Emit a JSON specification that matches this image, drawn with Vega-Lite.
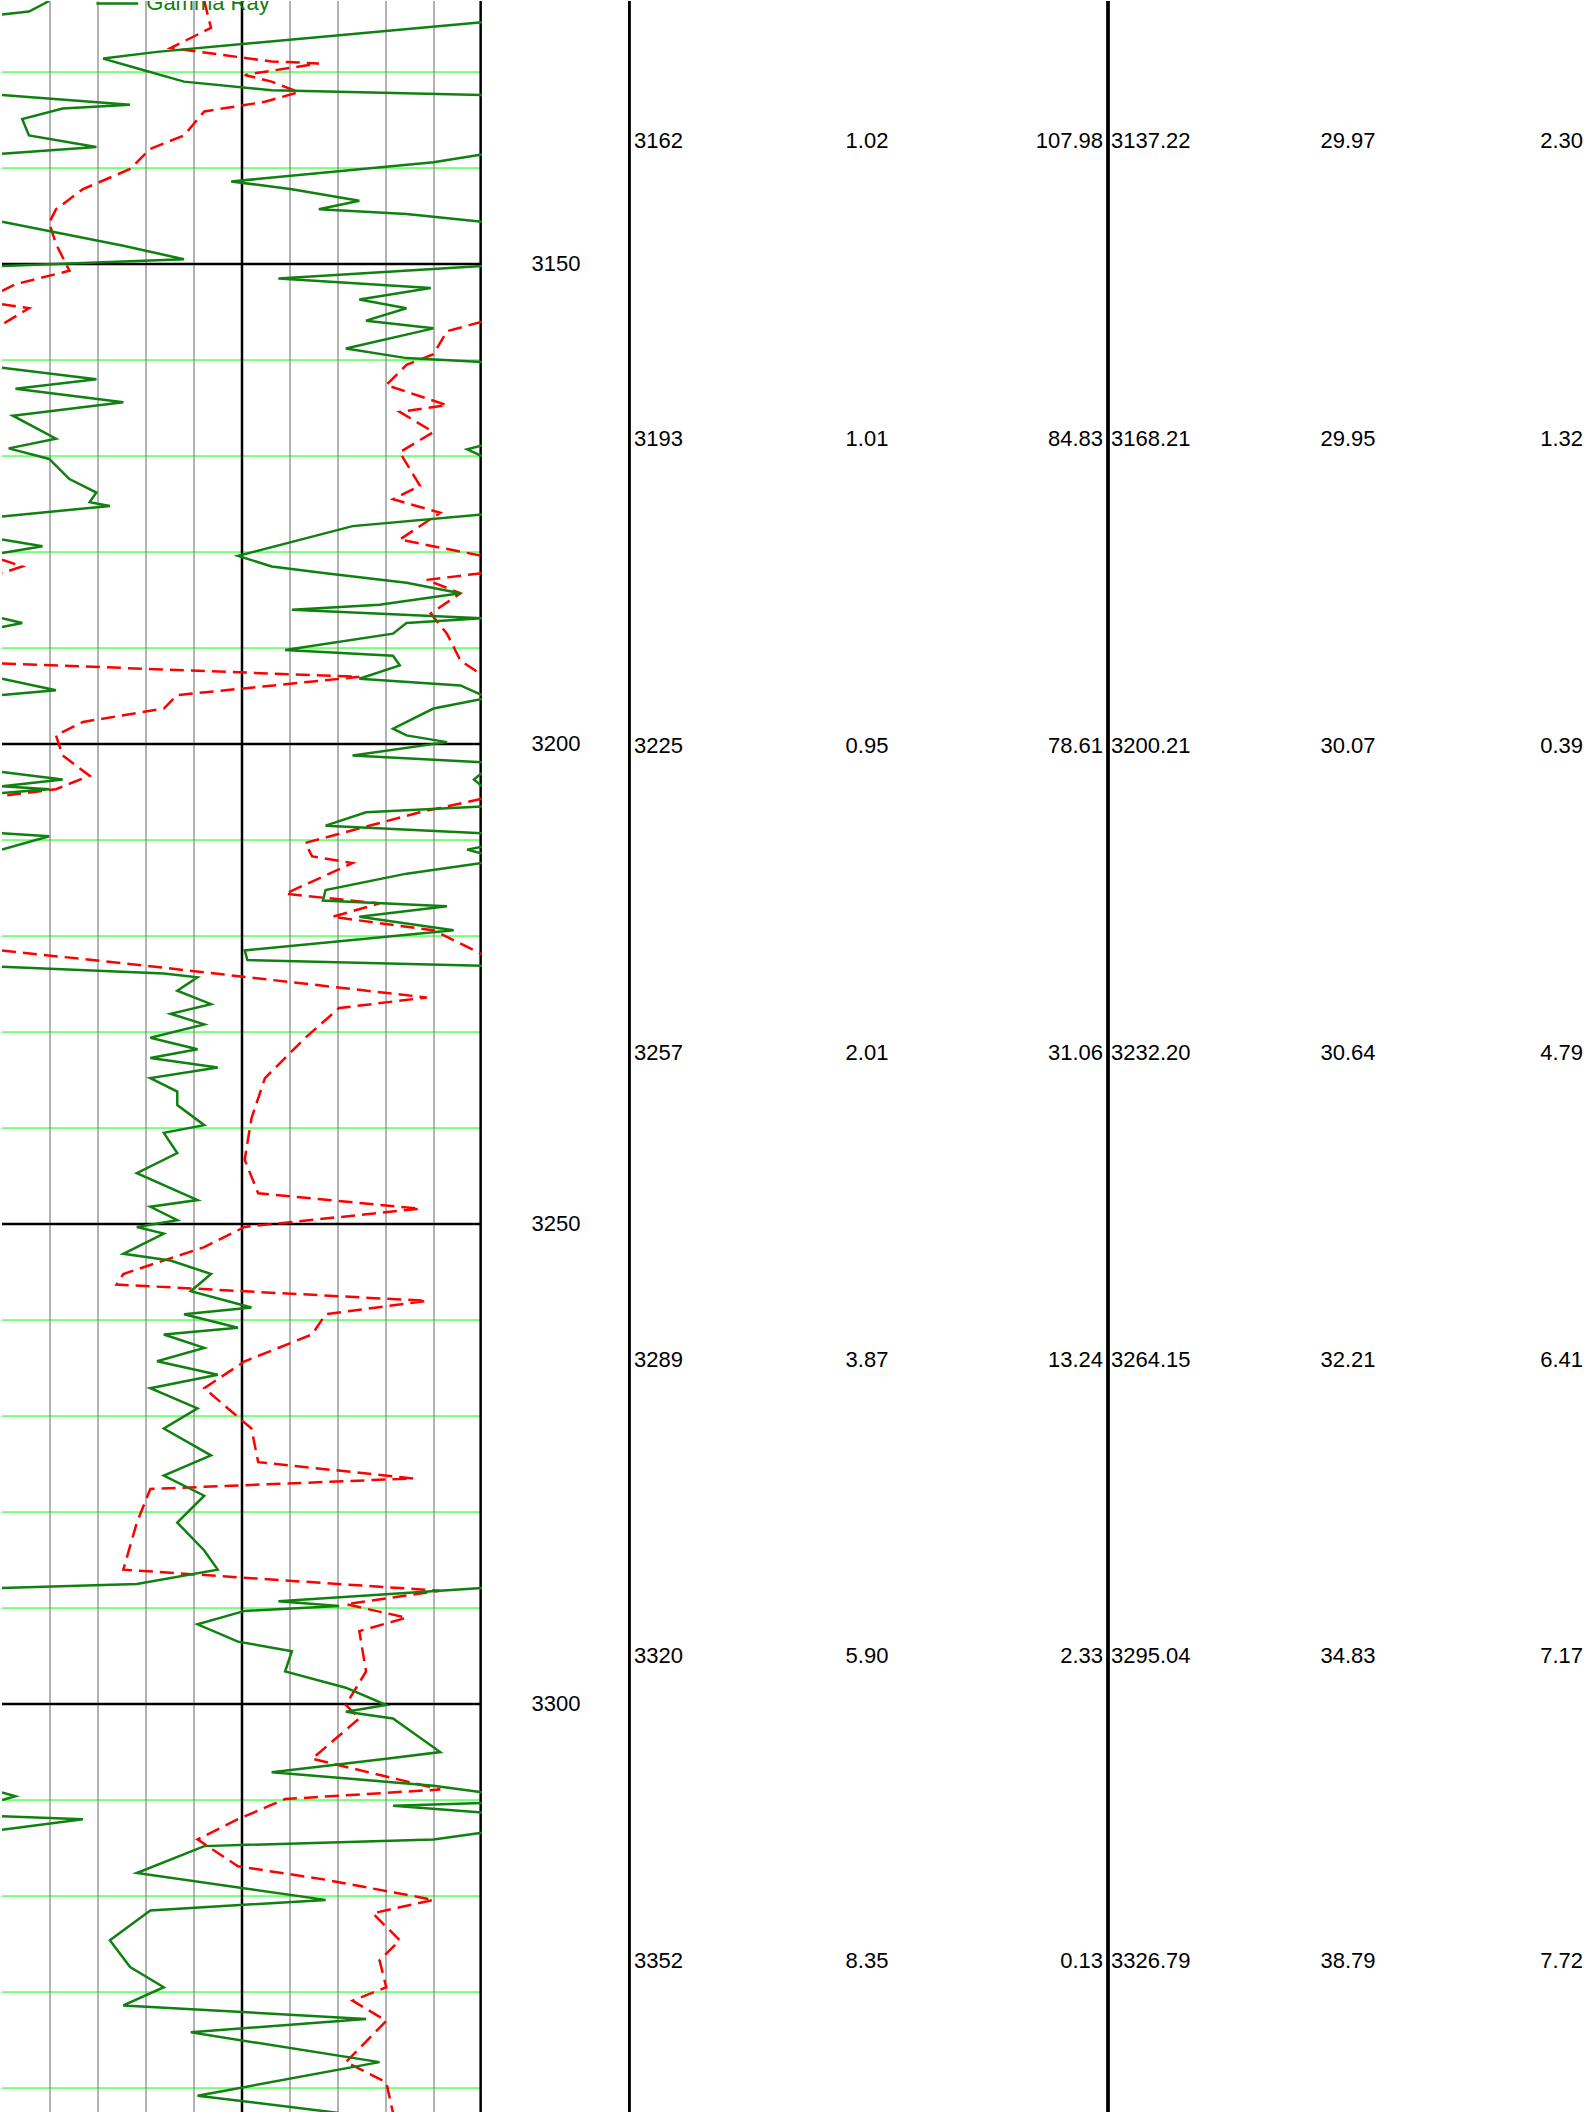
{
"$schema":"https://vega.github.io/schema/vega-lite/v6.json",
"padding":0,"spacing":0,
"config":{"view":{"stroke":null},"font":"Liberation Sans"},
"background":"white",
"datasets":{
"gr":[
{"s":"g1","d":3122.6,"v":35},{"s":"g1","d":3123.7,"v":20},{"s":"g1","d":3124.0,"v":0},
{"s":"g2","d":3124.8,"v":356},{"s":"g2","d":3127.9,"v":115},{"s":"g2","d":3128.6,"v":75},{"s":"g2","d":3129.6,"v":100},{"s":"g2","d":3131.0,"v":135},{"s":"g2","d":3131.9,"v":200},{"s":"g2","d":3132.4,"v":356},
{"s":"g3","d":3132.4,"v":0},{"s":"g3","d":3133.4,"v":95},{"s":"g3","d":3133.8,"v":45},{"s":"g3","d":3134.9,"v":15},{"s":"g3","d":3136.6,"v":20},{"s":"g3","d":3137.8,"v":70},{"s":"g3","d":3138.5,"v":0},
{"s":"g4","d":3138.6,"v":356},{"s":"g4","d":3139.4,"v":320},{"s":"g4","d":3141.4,"v":170},{"s":"g4","d":3142.2,"v":215},{"s":"g4","d":3143.4,"v":265},{"s":"g4","d":3144.3,"v":235},{"s":"g4","d":3144.8,"v":300},{"s":"g4","d":3145.6,"v":356},
{"s":"g5","d":3145.6,"v":0},{"s":"g5","d":3148.1,"v":90},{"s":"g5","d":3149.5,"v":135},{"s":"g5","d":3150.2,"v":0},
{"s":"g6","d":3150.2,"v":356},{"s":"g6","d":3151.5,"v":205},{"s":"g6","d":3152.5,"v":318},{"s":"g6","d":3153.7,"v":265},{"s":"g6","d":3154.6,"v":300},{"s":"g6","d":3155.9,"v":270},{"s":"g6","d":3156.7,"v":320},{"s":"g6","d":3158.8,"v":255},{"s":"g6","d":3159.8,"v":300},{"s":"g6","d":3160.2,"v":356},
{"s":"g7","d":3160.8,"v":0},{"s":"g7","d":3162.0,"v":70},{"s":"g7","d":3163.0,"v":10},{"s":"g7","d":3164.4,"v":90},{"s":"g7","d":3165.8,"v":8},{"s":"g7","d":3168.2,"v":40},{"s":"g7","d":3169.2,"v":5},{"s":"g7","d":3170.3,"v":35},{"s":"g7","d":3172.4,"v":50},{"s":"g7","d":3173.8,"v":70},{"s":"g7","d":3174.8,"v":65},{"s":"g7","d":3175.2,"v":80},{"s":"g7","d":3176.3,"v":0},
{"s":"g8","d":3168.9,"v":356},{"s":"g8","d":3169.3,"v":345},{"s":"g8","d":3170.0,"v":356},
{"s":"g9","d":3176.1,"v":356},{"s":"g9","d":3177.3,"v":260},{"s":"g9","d":3180.4,"v":175},{"s":"g9","d":3181.5,"v":200},{"s":"g9","d":3182.2,"v":240},{"s":"g9","d":3183.2,"v":300},{"s":"g9","d":3184.3,"v":340},{"s":"g9","d":3185.5,"v":280},{"s":"g9","d":3186.0,"v":215},{"s":"g9","d":3186.9,"v":356},{"s":"g9","d":3187.4,"v":300},{"s":"g9","d":3188.5,"v":290},{"s":"g9","d":3190.2,"v":210},{"s":"g9","d":3190.8,"v":290},{"s":"g9","d":3191.8,"v":295},{"s":"g9","d":3193.2,"v":265},{"s":"g9","d":3193.9,"v":340},{"s":"g9","d":3194.9,"v":356},
{"s":"g10","d":3195.3,"v":356},{"s":"g10","d":3196.3,"v":320},{"s":"g10","d":3198.4,"v":290},{"s":"g10","d":3199.1,"v":300},{"s":"g10","d":3199.8,"v":330},{"s":"g10","d":3201.2,"v":260},{"s":"g10","d":3201.9,"v":356},
{"s":"g11","d":3178.7,"v":0},{"s":"g11","d":3179.4,"v":30},{"s":"g11","d":3180.1,"v":0},
{"s":"g12","d":3186.9,"v":0},{"s":"g12","d":3187.4,"v":15},{"s":"g12","d":3187.8,"v":0},
{"s":"g13","d":3193.2,"v":0},{"s":"g13","d":3194.4,"v":40},{"s":"g13","d":3194.9,"v":0},
{"s":"g14","d":3203.0,"v":356},{"s":"g14","d":3203.7,"v":350},{"s":"g14","d":3204.4,"v":356},
{"s":"g15","d":3202.9,"v":0},{"s":"g15","d":3203.7,"v":45},{"s":"g15","d":3204.4,"v":0},{"s":"g15","d":3204.7,"v":35},{"s":"g15","d":3205.1,"v":0},
{"s":"g16","d":3209.3,"v":0},{"s":"g16","d":3209.6,"v":35},{"s":"g16","d":3211.0,"v":0},
{"s":"g17","d":3206.5,"v":356},{"s":"g17","d":3207.1,"v":270},{"s":"g17","d":3208.5,"v":240},{"s":"g17","d":3209.3,"v":356},
{"s":"g18","d":3210.7,"v":356},{"s":"g18","d":3211.0,"v":345},{"s":"g18","d":3211.4,"v":356},
{"s":"g19","d":3212.4,"v":356},{"s":"g19","d":3213.5,"v":300},{"s":"g19","d":3215.2,"v":240},{"s":"g19","d":3216.3,"v":238},{"s":"g19","d":3216.9,"v":330},{"s":"g19","d":3218.0,"v":265},{"s":"g19","d":3219.4,"v":335},{"s":"g19","d":3221.5,"v":180},{"s":"g19","d":3222.5,"v":182},{"s":"g19","d":3223.1,"v":356},
{"s":"g20","d":3223.2,"v":0},{"s":"g20","d":3223.9,"v":120},{"s":"g20","d":3224.3,"v":145},{"s":"g20","d":3225.7,"v":130},{"s":"g20","d":3227.1,"v":155},{"s":"g20","d":3228.1,"v":125},{"s":"g20","d":3229.2,"v":150},{"s":"g20","d":3230.6,"v":110},{"s":"g20","d":3231.8,"v":145},{"s":"g20","d":3232.7,"v":110},{"s":"g20","d":3233.7,"v":160},{"s":"g20","d":3234.8,"v":110},{"s":"g20","d":3236.2,"v":130},{"s":"g20","d":3237.6,"v":130},{"s":"g20","d":3239.7,"v":150},{"s":"g20","d":3240.5,"v":120},{"s":"g20","d":3242.6,"v":130},{"s":"g20","d":3244.7,"v":100},{"s":"g20","d":3247.5,"v":145},{"s":"g20","d":3248.2,"v":110},{"s":"g20","d":3249.6,"v":130},{"s":"g20","d":3250.3,"v":100},{"s":"g20","d":3251.0,"v":120},{"s":"g20","d":3253.1,"v":90},{"s":"g20","d":3253.8,"v":125},{"s":"g20","d":3255.2,"v":155},{"s":"g20","d":3257.0,"v":140},{"s":"g20","d":3258.7,"v":185},{"s":"g20","d":3259.4,"v":135},{"s":"g20","d":3260.8,"v":175},{"s":"g20","d":3261.5,"v":120},{"s":"g20","d":3262.9,"v":150},{"s":"g20","d":3264.3,"v":115},{"s":"g20","d":3265.7,"v":160},{"s":"g20","d":3267.1,"v":110},{"s":"g20","d":3269.2,"v":145},{"s":"g20","d":3271.3,"v":120},{"s":"g20","d":3274.1,"v":155},{"s":"g20","d":3276.2,"v":120},{"s":"g20","d":3278.3,"v":150},{"s":"g20","d":3281.1,"v":130},{"s":"g20","d":3284.0,"v":150},{"s":"g20","d":3286.0,"v":160},{"s":"g20","d":3287.5,"v":100},{"s":"g20","d":3287.9,"v":0},
{"s":"g21","d":3287.9,"v":356},{"s":"g21","d":3289.3,"v":205},{"s":"g21","d":3289.8,"v":250},{"s":"g21","d":3290.3,"v":180},{"s":"g21","d":3291.7,"v":145},{"s":"g21","d":3293.5,"v":175},{"s":"g21","d":3294.5,"v":215},{"s":"g21","d":3296.6,"v":210},{"s":"g21","d":3298.3,"v":255},{"s":"g21","d":3300.1,"v":285},{"s":"g21","d":3300.8,"v":255},{"s":"g21","d":3301.5,"v":290},{"s":"g21","d":3305.0,"v":325},{"s":"g21","d":3305.7,"v":285},{"s":"g21","d":3307.1,"v":200},{"s":"g21","d":3308.5,"v":320},{"s":"g21","d":3309.2,"v":356},
{"s":"g22","d":3310.3,"v":356},{"s":"g22","d":3310.6,"v":290},{"s":"g22","d":3311.3,"v":356},
{"s":"g23","d":3313.4,"v":356},{"s":"g23","d":3314.1,"v":320},{"s":"g23","d":3314.8,"v":150},{"s":"g23","d":3317.6,"v":100},{"s":"g23","d":3320.4,"v":240},{"s":"g23","d":3321.5,"v":110},{"s":"g23","d":3324.6,"v":80},{"s":"g23","d":3327.4,"v":95},{"s":"g23","d":3329.5,"v":120},{"s":"g23","d":3331.4,"v":90},{"s":"g23","d":3332.8,"v":270},{"s":"g23","d":3334.2,"v":140},{"s":"g23","d":3337.3,"v":280},{"s":"g23","d":3340.8,"v":145},{"s":"g23","d":3342.6,"v":250},
{"s":"g24","d":3309.2,"v":0},{"s":"g24","d":3309.6,"v":10},{"s":"g24","d":3310.0,"v":0},
{"s":"g25","d":3311.7,"v":0},{"s":"g25","d":3312.0,"v":60},{"s":"g25","d":3313.1,"v":0}
],
"rd":[
{"s":"r1","d":3122.6,"v":150},{"s":"r1","d":3125.4,"v":155},{"s":"r1","d":3127.5,"v":125},{"s":"r1","d":3128.9,"v":200},{"s":"r1","d":3129.1,"v":235},{"s":"r1","d":3130.3,"v":180},{"s":"r1","d":3131.0,"v":200},{"s":"r1","d":3132.1,"v":220},{"s":"r1","d":3133.1,"v":195},{"s":"r1","d":3134.1,"v":150},{"s":"r1","d":3136.6,"v":135},{"s":"r1","d":3138.0,"v":110},{"s":"r1","d":3140.1,"v":95},{"s":"r1","d":3142.2,"v":60},{"s":"r1","d":3144.3,"v":40},{"s":"r1","d":3145.7,"v":35},{"s":"r1","d":3147.9,"v":40},{"s":"r1","d":3150.7,"v":50},{"s":"r1","d":3152.1,"v":10},{"s":"r1","d":3152.8,"v":0},
{"s":"r2","d":3154.2,"v":0},{"s":"r2","d":3154.6,"v":20},{"s":"r2","d":3156.3,"v":0},
{"s":"r3","d":3156.0,"v":356},{"s":"r3","d":3157.0,"v":330},{"s":"r3","d":3159.4,"v":320},{"s":"r3","d":3160.5,"v":300},{"s":"r3","d":3162.6,"v":285},{"s":"r3","d":3164.7,"v":330},{"s":"r3","d":3165.4,"v":295},{"s":"r3","d":3167.5,"v":320},{"s":"r3","d":3169.6,"v":295},{"s":"r3","d":3173.1,"v":310},{"s":"r3","d":3174.5,"v":290},{"s":"r3","d":3175.9,"v":325},{"s":"r3","d":3178.7,"v":295},{"s":"r3","d":3180.4,"v":356},
{"s":"r4","d":3182.2,"v":356},{"s":"r4","d":3182.9,"v":315},{"s":"r4","d":3184.3,"v":340},{"s":"r4","d":3186.4,"v":318},{"s":"r4","d":3188.5,"v":330},{"s":"r4","d":3191.3,"v":340},{"s":"r4","d":3192.8,"v":356},
{"s":"r5","d":3180.8,"v":0},{"s":"r5","d":3181.5,"v":15},{"s":"r5","d":3182.2,"v":0},
{"s":"r6","d":3191.6,"v":0},{"s":"r6","d":3193.0,"v":265},{"s":"r6","d":3194.9,"v":130},{"s":"r6","d":3196.3,"v":120},{"s":"r6","d":3197.7,"v":60},{"s":"r6","d":3199.1,"v":40},{"s":"r6","d":3201.2,"v":45},{"s":"r6","d":3203.3,"v":65},{"s":"r6","d":3204.7,"v":40},{"s":"r6","d":3205.4,"v":0},
{"s":"r7","d":3205.7,"v":356},{"s":"r7","d":3207.1,"v":310},{"s":"r7","d":3210.3,"v":225},{"s":"r7","d":3211.7,"v":230},{"s":"r7","d":3212.4,"v":260},{"s":"r7","d":3215.6,"v":210},{"s":"r7","d":3216.6,"v":280},{"s":"r7","d":3218.0,"v":245},{"s":"r7","d":3219.4,"v":320},{"s":"r7","d":3221.9,"v":356},
{"s":"r8","d":3221.5,"v":0},{"s":"r8","d":3223.3,"v":120},{"s":"r8","d":3226.4,"v":315},{"s":"r8","d":3227.5,"v":250},{"s":"r8","d":3230.6,"v":225},{"s":"r8","d":3234.8,"v":195},{"s":"r8","d":3239.0,"v":185},{"s":"r8","d":3243.3,"v":180},{"s":"r8","d":3246.8,"v":190},{"s":"r8","d":3248.4,"v":310},{"s":"r8","d":3250.3,"v":180},{"s":"r8","d":3252.4,"v":150},{"s":"r8","d":3255.2,"v":90},{"s":"r8","d":3256.3,"v":85},{"s":"r8","d":3258.0,"v":315},{"s":"r8","d":3259.4,"v":240},{"s":"r8","d":3261.5,"v":230},{"s":"r8","d":3264.3,"v":180},{"s":"r8","d":3267.1,"v":150},{"s":"r8","d":3271.3,"v":185},{"s":"r8","d":3274.8,"v":190},{"s":"r8","d":3276.5,"v":305},{"s":"r8","d":3277.6,"v":110},{"s":"r8","d":3281.1,"v":100},{"s":"r8","d":3286.0,"v":90},{"s":"r8","d":3288.2,"v":325},{"s":"r8","d":3289.6,"v":255},{"s":"r8","d":3291.0,"v":300},{"s":"r8","d":3292.4,"v":265},{"s":"r8","d":3296.6,"v":270},{"s":"r8","d":3300.1,"v":255},{"s":"r8","d":3301.5,"v":265},{"s":"r8","d":3305.7,"v":230},{"s":"r8","d":3308.9,"v":325},{"s":"r8","d":3309.9,"v":210},{"s":"r8","d":3312.0,"v":175},{"s":"r8","d":3314.1,"v":145},{"s":"r8","d":3316.9,"v":175},{"s":"r8","d":3318.3,"v":240},{"s":"r8","d":3320.4,"v":320},{"s":"r8","d":3321.8,"v":275},{"s":"r8","d":3324.6,"v":295},{"s":"r8","d":3326.7,"v":280},{"s":"r8","d":3329.5,"v":285},{"s":"r8","d":3330.9,"v":260},{"s":"r8","d":3333.0,"v":285},{"s":"r8","d":3337.3,"v":255},{"s":"r8","d":3339.4,"v":285},{"s":"r8","d":3342.6,"v":290}
],
"hgrid":[{"d":3130,"t":"g"},{"d":3140,"t":"g"},{"d":3160,"t":"g"},{"d":3170,"t":"g"},{"d":3180,"t":"g"},{"d":3190,"t":"g"},{"d":3210,"t":"g"},{"d":3220,"t":"g"},{"d":3230,"t":"g"},{"d":3240,"t":"g"},{"d":3260,"t":"g"},{"d":3270,"t":"g"},{"d":3280,"t":"g"},{"d":3290,"t":"g"},{"d":3310,"t":"g"},{"d":3320,"t":"g"},{"d":3330,"t":"g"},{"d":3340,"t":"g"},{"d":3150,"t":"b"},{"d":3200,"t":"b"},{"d":3250,"t":"b"},{"d":3300,"t":"b"}],
"vgrid":[{"v":35.6,"t":"g","a":3122.6,"b":3342.6},{"v":71.2,"t":"g","a":3122.6,"b":3342.6},{"v":106.8,"t":"g","a":3122.6,"b":3342.6},{"v":142.4,"t":"g","a":3122.6,"b":3342.6},{"v":178,"t":"b","a":3122.6,"b":3342.6},{"v":213.6,"t":"g","a":3122.6,"b":3342.6},{"v":249.2,"t":"g","a":3122.6,"b":3342.6},{"v":284.8,"t":"g","a":3122.6,"b":3342.6},{"v":320.4,"t":"g","a":3122.6,"b":3342.6},{"v":355,"t":"b","a":3122.6,"b":3342.6}],
"lg":[{"n":"Gamma Ray","x1":70,"x2":101,"tx":107,"d":3122.85}],
"tbl":[
{"a":"3162","b":"1.02","c":"107.98","d":3137.22,"e":"29.97","f":"2.30"},
{"a":"3193","b":"1.01","c":"84.83","d":3168.21,"e":"29.95","f":"1.32"},
{"a":"3225","b":"0.95","c":"78.61","d":3200.21,"e":"30.07","f":"0.39"},
{"a":"3257","b":"2.01","c":"31.06","d":3232.20,"e":"30.64","f":"4.79"},
{"a":"3289","b":"3.87","c":"13.24","d":3264.15,"e":"32.21","f":"6.41"},
{"a":"3320","b":"5.90","c":"2.33","d":3295.04,"e":"34.83","f":"7.17"},
{"a":"3352","b":"8.35","c":"0.13","d":3326.79,"e":"38.79","f":"7.72"}
]
},
"hconcat":[
{"width":480,"height":2112,
"layer":[
{"data":{"name":"hgrid"},"transform":[{"filter":"datum.t=='g'"}],"mark":{"type":"rule","color":"#00ff00","strokeWidth":1},"encoding":{"y":{"field":"d","type":"quantitative","axis":null,"scale":{"domain":[3122.6,3342.6],"reverse":true,"nice":false,"zero":false}},"x":{"datum":0,"type":"quantitative","scale":{"domain":[0,356],"nice":false,"zero":false},"axis":null},"x2":{"datum":356}}},
{"data":{"name":"vgrid"},"transform":[{"filter":"datum.t=='g'"}],"mark":{"type":"rule","color":"#808080","strokeWidth":1.2},"encoding":{"x":{"field":"v","type":"quantitative"},"y":{"field":"a","type":"quantitative"},"y2":{"field":"b"}}},
{"data":{"name":"vgrid"},"transform":[{"filter":"datum.t=='b'"}],"mark":{"type":"rule","color":"#000000","strokeWidth":2.5,"clip":true},"encoding":{"x":{"field":"v","type":"quantitative"},"y":{"field":"a","type":"quantitative"},"y2":{"field":"b"}}},
{"data":{"name":"hgrid"},"transform":[{"filter":"datum.t=='b'"}],"mark":{"type":"rule","color":"#000000","strokeWidth":2.5},"encoding":{"y":{"field":"d","type":"quantitative"},"x":{"datum":0},"x2":{"datum":356}}},
{"data":{"name":"rd"},"mark":{"type":"line","color":"#ff0000","strokeWidth":2.5,"strokeDash":[14,7],"clip":true},"encoding":{"y":{"field":"d","type":"quantitative"},"x":{"field":"v","type":"quantitative"},"detail":{"field":"s"},"order":{"field":"d"}}},
{"data":{"name":"gr"},"mark":{"type":"line","color":"#108010","strokeWidth":2.5,"clip":true},"encoding":{"y":{"field":"d","type":"quantitative"},"x":{"field":"v","type":"quantitative"},"detail":{"field":"s"},"order":{"field":"d"}}},
{"data":{"name":"lg"},"mark":{"type":"rule","color":"#108010","strokeWidth":2.5,"clip":true},"encoding":{"x":{"field":"x1","type":"quantitative"},"x2":{"field":"x2"},"y":{"field":"d","type":"quantitative"}}},
{"data":{"name":"lg"},"mark":{"type":"text","color":"#108010","fontSize":22,"align":"left","baseline":"middle","clip":true},"encoding":{"x":{"field":"tx","type":"quantitative"},"y":{"field":"d","type":"quantitative"},"text":{"field":"n"}}}
]},
{"width":144,"height":2112,
"data":{"values":[{"d":3150},{"d":3200},{"d":3250},{"d":3300}]},
"mark":{"type":"text","fontSize":22,"align":"center","baseline":"middle","color":"#000"},
"encoding":{"y":{"field":"d","type":"quantitative","axis":null,"scale":{"domain":[3122.6,3342.6],"reverse":true,"nice":false,"zero":false}},
"x":{"datum":72,"type":"quantitative","scale":{"domain":[0,144],"nice":false,"zero":false},"axis":null},
"text":{"field":"d","type":"quantitative","format":"d"}}},
{"width":960,"height":2112,
"data":{"name":"tbl"},
"encoding":{"y":{"field":"d","type":"quantitative","axis":null,"scale":{"domain":[3122.6,3342.6],"reverse":true,"nice":false,"zero":false}}},
"layer":[
{"mark":{"type":"rule","color":"#000","strokeWidth":2.5,"clip":true},"encoding":{"x":{"datum":1,"type":"quantitative","scale":{"domain":[0,960],"nice":false,"zero":false},"axis":null},"y":{"datum":3122.6},"y2":{"datum":3342.6}}},
{"mark":{"type":"rule","color":"#000","strokeWidth":2.5,"clip":true},"encoding":{"x":{"datum":480},"y":{"datum":3122.6},"y2":{"datum":3342.6}}},
{"mark":{"type":"text","fontSize":22,"align":"left","baseline":"middle"},"encoding":{"x":{"datum":6},"text":{"field":"a"}}},
{"mark":{"type":"text","fontSize":22,"align":"center","baseline":"middle"},"encoding":{"x":{"datum":239},"text":{"field":"b"}}},
{"mark":{"type":"text","fontSize":22,"align":"right","baseline":"middle"},"encoding":{"x":{"datum":475},"text":{"field":"c"}}},
{"mark":{"type":"text","fontSize":22,"align":"left","baseline":"middle"},"encoding":{"x":{"datum":483},"text":{"field":"d","type":"quantitative","format":".2f"}}},
{"mark":{"type":"text","fontSize":22,"align":"center","baseline":"middle"},"encoding":{"x":{"datum":720},"text":{"field":"e"}}},
{"mark":{"type":"text","fontSize":22,"align":"right","baseline":"middle"},"encoding":{"x":{"datum":955},"text":{"field":"f"}}}
]}
]
}
